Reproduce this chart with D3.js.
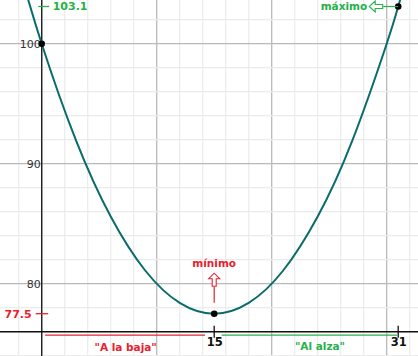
<!DOCTYPE html>
<html><head><meta charset="utf-8">
<script src="https://cdn.jsdelivr.net/npm/d3@7"></script>
<style>body{margin:0;background:#fff}svg{display:block}</style>
</head><body>
<svg id="c" width="418" height="356"></svg>
<script>
// data
const curveX = [-2, 0, 3, 6, 9, 12, 15, 18, 21, 24, 27, 30, 31, 32];
const curveY = [106.4, 100, 91.9, 85.6, 81.1, 78.4, 77.5, 78.4, 81.1, 85.6, 91.9, 100, 103.1, 106.4];
const pointX = [0, 15, 31];
const pointY = [100, 77.5, 103.1];
const yTicks = [80, 90, 100];
const xTicks = [15, 31];
const minLabel = "mínimo", maxLabel = "máximo";
const downLabel = "\"A la baja\"", upLabel = "\"Al alza\"";
const minValue = 77.5, maxValue = 103.1;

const W = 418, H = 356;
const x = d3.scaleLinear().domain([0, 31]).range([41.7, 398.2]);
const y = d3.scaleLinear().domain([76, 100]).range([331.7, 43.7]);
const svg = d3.select("#c");
const RED = "#e8212e", GREEN = "#27b04b", TEAL = "#0a6b6b";
const FONT = "DejaVu Sans, Verdana, sans-serif";

svg.append("defs").append("clipPath").attr("id","clip").append("rect").attr("width",W).attr("height",H);

// grid
const gx = d3.range(-4, 36, 2), gy = d3.range(72, 106, 2);
const g = svg.append("g");
g.selectAll(".vx").data(gx).join("line")
  .attr("x1", d=>x(d)).attr("x2", d=>x(d)).attr("y1",0).attr("y2",H)
  .attr("stroke", d => d % 10 === 0 ? "#b9b9b9" : "#ebebeb").attr("stroke-width", d => d%10===0?1.3:1.2);
g.selectAll(".hy").data(gy).join("line")
  .attr("y1", d=>y(d)).attr("y2", d=>y(d)).attr("x1",0).attr("x2",W)
  .attr("stroke", d => d % 10 === 0 ? "#b9b9b9" : "#ebebeb").attr("stroke-width", d => d%10===0?1.3:1.2);

// axes lines
svg.append("line").attr("x1", x(0)).attr("x2", x(0)).attr("y1",0).attr("y2",H).attr("stroke","#222").attr("stroke-width",1.4);
svg.append("line").attr("x1", 0).attr("x2", W).attr("y1",y(76)).attr("y2",y(76)).attr("stroke","#111").attr("stroke-width",1.4);

// y tick labels
const ya = svg.append("g").attr("transform",`translate(${x(0)},0)`)
  .call(d3.axisLeft(y).tickValues(yTicks).tickSize(0).tickPadding(1).tickFormat(d3.format("d")));
ya.select(".domain").remove();
ya.selectAll("text").attr("font-family", FONT).attr("font-size", 11).attr("fill","#333");

// x ticks
svg.selectAll(".xt").data(xTicks).join("line")
  .attr("x1", d=>x(d)).attr("x2", d=>x(d)).attr("y1", y(76)-6).attr("y2", y(76)+6)
  .attr("stroke","#111").attr("stroke-width",1.3);
const xa = svg.append("g").attr("transform",`translate(0,${y(76)})`)
  .call(d3.axisBottom(x).tickValues(xTicks).tickSize(0).tickPadding(6).tickFormat(d3.format("d")));
xa.select(".domain").remove();
xa.selectAll("text").attr("font-family", FONT).attr("font-size", 11.5).attr("font-weight","bold").attr("fill","#111");

// trend lines under axis
svg.append("line").attr("x1", x(0.3)).attr("x2", x(14.2)).attr("y1", y(76)+3.5).attr("y2", y(76)+3.5).attr("stroke", RED).attr("stroke-width",1.3);
svg.append("line").attr("x1", x(15.65)).attr("x2", x(30.9)).attr("y1", y(76)+3.5).attr("y2", y(76)+3.5).attr("stroke", GREEN).attr("stroke-width",1.3);
svg.append("text").attr("x", x(7.3)).attr("y", y(76)+19).attr("text-anchor","middle")
  .attr("font-family",FONT).attr("font-size",10.5).attr("font-weight","bold").attr("fill",RED).text(downLabel);
svg.append("text").attr("x", x(24.2)).attr("y", y(76)+18).attr("text-anchor","middle")
  .attr("font-family",FONT).attr("font-size",10.5).attr("font-weight","bold").attr("fill",GREEN).text(upLabel);

// value markers on y axis
svg.append("line").attr("x1", x(0)-6).attr("x2", x(0)+6.5).attr("y1", y(minValue)).attr("y2", y(minValue)).attr("stroke",RED).attr("stroke-width",1.3);
svg.append("text").attr("x", x(0)-10).attr("y", y(minValue)).attr("dy","0.36em").attr("text-anchor","end")
  .attr("font-family",FONT).attr("font-size",11).attr("font-weight","bold").attr("fill",RED).text(d3.format(".1f")(minValue));
svg.append("line").attr("x1", x(0)-3.5).attr("x2", x(0)+7.5).attr("y1", y(maxValue)).attr("y2", y(maxValue)).attr("stroke",GREEN).attr("stroke-width",1.3);
svg.append("text").attr("x", x(0)+11).attr("y", y(maxValue)).attr("dy","0.36em").attr("text-anchor","start")
  .attr("font-family",FONT).attr("font-size",11).attr("font-weight","bold").attr("fill",GREEN).text(d3.format(".1f")(maxValue));

// curve
const pts = curveX.map((d,i)=>[d, curveY[i]]);
svg.append("path").attr("clip-path","url(#clip)")
  .attr("d", d3.line().x(d=>x(d[0])).y(d=>y(d[1])).curve(d3.curveNatural)(pts))
  .attr("fill","none").attr("stroke",TEAL).attr("stroke-width",2);

// points
svg.selectAll(".pt").data(pointX.map((d,i)=>[d,pointY[i]])).join("circle")
  .attr("cx", d=>x(d[0])).attr("cy", d=>y(d[1])).attr("r", 3.3).attr("fill","#000");

// mínimo annotation with up hollow arrow
const mx = x(15), my = y(minValue);
svg.append("line").attr("x1", mx).attr("x2", mx).attr("y1", my-11).attr("y2", my-27).attr("stroke",RED).attr("stroke-width",1.2);
svg.append("path").attr("d", `M${mx-2},${my-27.5} L${mx-2},${my-35} L${mx-5.5},${my-35} L${mx},${my-40.5} L${mx+5.5},${my-35} L${mx+2},${my-35} L${mx+2},${my-27.5} Z`)
  .attr("fill","#fff").attr("stroke",RED).attr("stroke-width",1.1);
svg.append("text").attr("x", mx).attr("y", my-47).attr("text-anchor","middle")
  .attr("font-family",FONT).attr("font-size",10.5).attr("font-weight","bold").attr("fill",RED).text(minLabel);

// máximo annotation with left hollow arrow
const Mx = x(31), My = y(maxValue);
svg.append("line").attr("x1", Mx).attr("x2", Mx-15).attr("y1", My).attr("y2", My).attr("stroke",GREEN).attr("stroke-width",1.2);
svg.append("path").attr("d", `M${Mx-15.5},${My-2} L${Mx-23},${My-2} L${Mx-23},${My-5.5} L${Mx-29},${My} L${Mx-23},${My+5.5} L${Mx-23},${My+2} L${Mx-15.5},${My+2} Z`)
  .attr("fill","#fff").attr("stroke",GREEN).attr("stroke-width",1.1);
svg.append("text").attr("x", Mx-31).attr("y", My).attr("dy","0.36em").attr("text-anchor","end")
  .attr("font-family",FONT).attr("font-size",10.5).attr("font-weight","bold").attr("fill",GREEN).text(maxLabel);
</script>
</body></html>
